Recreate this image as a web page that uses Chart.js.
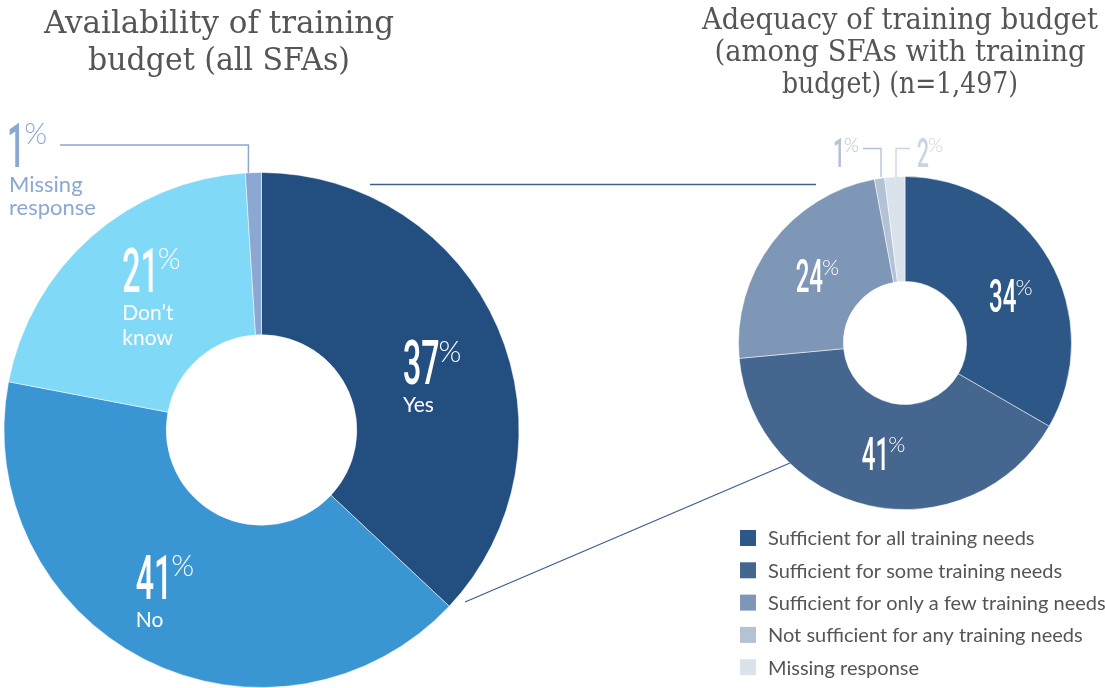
<!DOCTYPE html>
<html>
<head>
<meta charset="utf-8">
<script src="https://cdn.jsdelivr.net/npm/chart.js@4.4.1/dist/chart.umd.min.js"></script>
<style>
  html, body { margin: 0; padding: 0; background: #fff; }
  #wrap { position: relative; width: 1105px; height: 688px; }
  #wrap canvas { position: absolute; left: 0; top: 0; }
</style>
</head>
<body>
<div id="wrap">
  <canvas id="availability-chart" width="1105" height="688"></canvas>
  <canvas id="adequacy-chart" width="1105" height="688"></canvas>
</div>
<script>
// Availability of training budget (all SFAs)
const availLabels = ["Yes", "No", "Don’t know", "Missing response"];
const availValues = [37, 41, 21, 1];
const availColors = ["#224e80", "#3a95d3", "#80d9f7", "#8aa8d2"];

// Adequacy of training budget (n=1,497)
const adequacyLabels = [
  "Sufficient for all training needs",
  "Sufficient for some training needs",
  "Sufficient for only a few training needs",
  "Not sufficient for any training needs",
  "Missing response",
];
const adequacyValues = [34, 41, 24, 1, 2];
const adequacyColors = ["#2d5786", "#45668f", "#7f97b6", "#b3c2d5", "#dae2eb"];

const titleFont = "'DejaVu Serif'";
const labelFont = "Lato";

// big condensed number with a small % next to it, x/y = top left
function drawPct(ctx, value, x, y, digitH, color) {
  const str = String(value);
  const size = digitH / 0.711;
  const sx = 0.52;
  ctx.save();
  ctx.fillStyle = color;
  ctx.textAlign = "left";
  ctx.textBaseline = "alphabetic";
  ctx.font = "500 " + size + "px Roboto";
  const w = ctx.measureText(str).width * sx;
  ctx.translate(x, y + digitH);
  ctx.scale(sx, 1);
  ctx.fillText(str, 0, 0);
  ctx.restore();

  ctx.save();
  ctx.fillStyle = color;
  ctx.textAlign = "left";
  ctx.textBaseline = "top";
  const pSize = (digitH * 0.48) / 0.72;
  ctx.font = "300 " + pSize + "px Lato";
  ctx.fillText("%", x + w - 1, y - pSize * 0.1);
  ctx.restore();
  return w;
}

function titleLines(ctx, lines, cx, y0, lineH, size, widths) {
  ctx.save();
  ctx.fillStyle = "#555555";
  ctx.textAlign = "center";
  ctx.textBaseline = "alphabetic";
  ctx.font = "300 " + size + "px " + titleFont;
  lines.forEach((t, i) => {
    ctx.fillText(t, cx, y0 + i * lineH, widths[i]);
  });
  ctx.restore();
}

function line(ctx, pts, color, w) {
  ctx.save();
  ctx.strokeStyle = color;
  ctx.lineWidth = w;
  ctx.beginPath();
  ctx.moveTo(pts[0][0], pts[0][1]);
  for (let i = 1; i < pts.length; i++) ctx.lineTo(pts[i][0], pts[i][1]);
  ctx.stroke();
  ctx.restore();
}

// label block offsets from the mid-angle anchor
const availNudge = [[-24, -18], [-44, -36], [-20, -47]];
const adequacyNudge = [[-14, -7], [-19, -17], [-19, -16]];

const availDecor = {
  id: "availDecor",
  afterDraw(chart) {
    const { ctx } = chart;
    const arcs = chart.getDatasetMeta(0).data;
    const cx = arcs[0].x;
    const cy = arcs[0].y;
    const R = arcs[0].outerRadius;

    titleLines(ctx, ["Availability of training", "budget (all SFAs)"], 219, 33, 37, 31, [356, 262]);

    // labels inside the slices
    for (let i = 0; i < 3; i++) {
      const a = arcs[i];
      const mid = (a.startAngle + a.endAngle) / 2;
      const x = cx + 0.7 * R * Math.cos(mid) + availNudge[i][0];
      const y = cy + 0.7 * R * Math.sin(mid) + availNudge[i][1];
      drawPct(ctx, availValues[i], x, y, 44, "#ffffff");
      ctx.save();
      ctx.fillStyle = "#ffffff";
      ctx.font = "21px " + labelFont;
      ctx.textAlign = "left";
      ctx.textBaseline = "alphabetic";
      const words = i === 2 ? ["Don’t", "know"] : [availLabels[i]];
      words.forEach((t, k) => ctx.fillText(t, x, y + 44 + 28 + k * 25));
      ctx.restore();
    }

    // missing response callout
    const m = arcs[3];
    const mMid = (m.startAngle + m.endAngle) / 2;
    const mx = cx + R * Math.cos(mMid) - 5;
    const my = cy + R * Math.sin(mMid);
    line(ctx, [[60, 145], [mx, 145], [mx, my]], "#8aa8d2", 1.5);
    drawPct(ctx, availValues[3], 7, 123, 44, "#8aa8d2");
    ctx.save();
    ctx.fillStyle = "#8aa8d2";
    ctx.font = "22px " + labelFont;
    ctx.fillText("Missing", 9, 192);
    ctx.fillText("response", 9, 215);
    ctx.restore();

    // connector lines to the adequacy chart
    line(ctx, [[370, 184.5], [816, 184.5]], "#3d5f91", 1.3);
    line(ctx, [[465, 602], [790, 463]], "#3d5f91", 1.3);
  },
};

const adequacyDecor = {
  id: "adequacyDecor",
  afterDraw(chart) {
    const { ctx } = chart;
    const arcs = chart.getDatasetMeta(0).data;
    const cx = arcs[0].x;
    const cy = arcs[0].y;
    const R = arcs[0].outerRadius;

    titleLines(
      ctx,
      ["Adequacy of training budget", "(among SFAs with training", "budget) (n=1,497)"],
      900, 29, 32, 29, [396, 371, 236]
    );

    for (let i = 0; i < 3; i++) {
      const a = arcs[i];
      const mid = (a.startAngle + a.endAngle) / 2;
      const x = cx + 0.68 * R * Math.cos(mid) + adequacyNudge[i][0];
      const y = cy + 0.68 * R * Math.sin(mid) + adequacyNudge[i][1];
      drawPct(ctx, adequacyValues[i], x, y, 33, "#ffffff");
    }

    // small slices callouts
    line(ctx, [[863, 148.5], [881, 148.5], [881, 177]], "#b3c2d5", 1.3);
    line(ctx, [[896, 177], [896, 148.5], [910, 148.5]], "#c9d5e3", 1.3);
    drawPct(ctx, adequacyValues[3], 833, 138, 29, "#b3c2d5");
    drawPct(ctx, adequacyValues[4], 917, 138, 29, "#c9d5e3");

    // legend
    ctx.save();
    ctx.font = "20px " + labelFont;
    ctx.textBaseline = "middle";
    ctx.textAlign = "left";
    adequacyLabels.forEach((t, i) => {
      const y = 538 + i * 32.3;
      ctx.fillStyle = adequacyColors[i];
      ctx.fillRect(740, y - 8, 16, 16);
      ctx.fillStyle = "#555555";
      ctx.fillText(t, 768, y + 1);
    });
    ctx.restore();
  },
};

new Chart(document.getElementById("availability-chart"), {
  type: "doughnut",
  data: {
    labels: availLabels,
    datasets: [
      {
        data: availValues,
        backgroundColor: availColors,
        borderColor: "rgba(255, 255, 255, 0.5)",
        borderWidth: 1,
      },
    ],
  },
  options: {
    responsive: false,
    animation: false,
    cutout: "37%",
    layout: { padding: { left: 3, top: 172, right: 585, bottom: 0 } },
    plugins: { legend: { display: false }, tooltip: { enabled: false } },
  },
  plugins: [availDecor],
});

new Chart(document.getElementById("adequacy-chart"), {
  type: "doughnut",
  data: {
    labels: adequacyLabels,
    datasets: [
      {
        data: adequacyValues,
        backgroundColor: adequacyColors,
        borderColor: "rgba(255, 255, 255, 0.5)",
        borderWidth: 1,
      },
    ],
  },
  options: {
    responsive: false,
    animation: false,
    cutout: "37%",
    layout: { padding: { left: 738, top: 176, right: 33, bottom: 178 } },
    plugins: { legend: { display: false }, tooltip: { enabled: false } },
  },
  plugins: [adequacyDecor],
});
</script>
</body>
</html>
